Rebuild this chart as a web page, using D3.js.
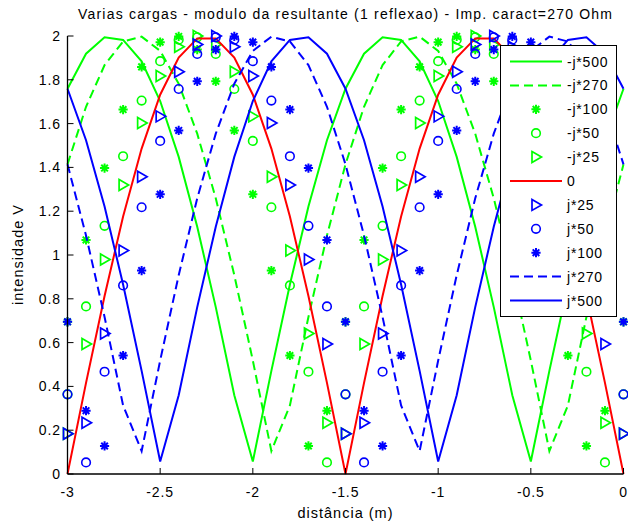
<!DOCTYPE html>
<html><head><meta charset="utf-8">
<script src="https://cdn.jsdelivr.net/npm/d3@7"></script>
<style>
html,body{margin:0;padding:0;background:#fff;}
svg text{font-family:"Liberation Sans",Arial,sans-serif;fill:#000;}
</style></head>
<body>
<svg id="chart" width="628" height="525"></svg>
<script>
// distance samples (m)
const distances = [-3,-2.9,-2.8,-2.7,-2.6,-2.5,-2.4,-2.3,-2.2,-2.1,-2,-1.9,-1.8,-1.7,-1.6,-1.5,-1.4,-1.3,-1.2,-1.1,-1,-0.9,-0.8,-0.7,-0.6,-0.5,-0.4,-0.3,-0.2,-0.1,0];

const serNegJ500 = [1.759,1.919,1.994,1.982,1.884,1.703,1.448,1.129,0.762,0.360,0.057,0.471,0.865,1.221,1.524,1.759,1.919,1.994,1.982,1.884,1.703,1.448,1.129,0.762,0.360,0.057,0.471,0.865,1.221,1.524,1.759];
const serNegJ270 = [1.414,1.677,1.867,1.975,1.997,1.932,1.782,1.554,1.259,0.908,0.518,0.105,0.313,0.717,1.089,1.414,1.677,1.867,1.975,1.997,1.932,1.782,1.554,1.259,0.908,0.518,0.105,0.313,0.717,1.089,1.414];
const serNegJ100 = [0.695,1.069,1.397,1.664,1.859,1.972,1.998,1.938,1.793,1.569,1.277,0.929,0.541,0.128,0.289,0.695,1.069,1.397,1.664,1.859,1.972,1.998,1.938,1.793,1.569,1.277,0.929,0.541,0.128,0.289,0.695];
const serNegJ50 = [0.364,0.765,1.133,1.451,1.705,1.885,1.983,1.994,1.918,1.758,1.521,1.218,0.861,0.467,0.053,0.364,0.765,1.133,1.451,1.705,1.885,1.983,1.994,1.918,1.758,1.521,1.218,0.861,0.467,0.053,0.364];
const serNegJ25 = [0.184,0.594,0.979,1.320,1.603,1.817,1.951,2.000,1.961,1.837,1.633,1.357,1.021,0.642,0.234,0.184,0.594,0.979,1.320,1.603,1.817,1.951,2.000,1.961,1.837,1.633,1.357,1.021,0.642,0.234,0.184];
const serZero = [0,0.416,0.813,1.176,1.486,1.732,1.902,1.989,1.989,1.902,1.732,1.486,1.176,0.813,0.416,0,0.416,0.813,1.176,1.486,1.732,1.902,1.989,1.989,1.902,1.732,1.486,1.176,0.813,0.416,0];
const serJ25 = [0.184,0.234,0.642,1.021,1.357,1.633,1.837,1.961,2.000,1.951,1.817,1.603,1.320,0.979,0.594,0.184,0.234,0.642,1.021,1.357,1.633,1.837,1.961,2.000,1.951,1.817,1.603,1.320,0.979,0.594,0.184];
const serJ50 = [0.364,0.053,0.467,0.861,1.218,1.521,1.758,1.918,1.994,1.983,1.885,1.705,1.451,1.133,0.765,0.364,0.053,0.467,0.861,1.218,1.521,1.758,1.918,1.994,1.983,1.885,1.705,1.451,1.133,0.765,0.364];
const serJ100 = [0.695,0.289,0.128,0.541,0.929,1.277,1.569,1.793,1.938,1.998,1.972,1.859,1.664,1.397,1.069,0.695,0.289,0.128,0.541,0.929,1.277,1.569,1.793,1.938,1.998,1.972,1.859,1.664,1.397,1.069,0.695];
const serJ270 = [1.414,1.089,0.717,0.313,0.105,0.518,0.908,1.259,1.554,1.782,1.932,1.997,1.975,1.867,1.677,1.414,1.089,0.717,0.313,0.105,0.518,0.908,1.259,1.554,1.782,1.932,1.997,1.975,1.867,1.677,1.414];
const serJ500 = [1.759,1.524,1.221,0.865,0.471,0.057,0.360,0.762,1.129,1.448,1.703,1.884,1.982,1.994,1.919,1.759,1.524,1.221,0.865,0.471,0.057,0.360,0.762,1.129,1.448,1.703,1.884,1.982,1.994,1.919,1.759];

const seriesNames = ["-j*500","-j*270","-j*100","-j*50","-j*25","0","j*25","j*50","j*100","j*270","j*500"];
const xTicks = [-3,-2.5,-2,-1.5,-1,-0.5,0];
const yTicks = [0,0.2,0.4,0.6,0.8,1,1.2,1.4,1.6,1.8,2];
const titleText = "Varias cargas - modulo da resultante (1 reflexao) - Imp. caract=270 Ohm";
const xLabelText = "distância (m)";
const yLabelText = "intensidade V";

const G = "#00ff00", B = "#0000ff", R = "#ff0000";
const series = [
  {name:seriesNames[0], vals:serNegJ500, color:G, kind:"solid"},
  {name:seriesNames[1], vals:serNegJ270, color:G, kind:"dash"},
  {name:seriesNames[2], vals:serNegJ100, color:G, kind:"star"},
  {name:seriesNames[3], vals:serNegJ50,  color:G, kind:"circle"},
  {name:seriesNames[4], vals:serNegJ25,  color:G, kind:"tri"},
  {name:seriesNames[5], vals:serZero,    color:R, kind:"solid"},
  {name:seriesNames[6], vals:serJ25,     color:B, kind:"tri"},
  {name:seriesNames[7], vals:serJ50,     color:B, kind:"circle"},
  {name:seriesNames[8], vals:serJ100,    color:B, kind:"star"},
  {name:seriesNames[9], vals:serJ270,    color:B, kind:"dash"},
  {name:seriesNames[10],vals:serJ500,    color:B, kind:"solid"}
];

const svg = d3.select("#chart");
const x = d3.scaleLinear().domain([-3,0]).range([67.5,623.5]);
const y = d3.scaleLinear().domain([0,2]).range([474,36]);

const plot = svg.append("g");
const line = d3.line().x((d,i)=>x(distances[i])).y(d=>y(d));

function drawMarker(g, kind, color, cx, cy){
  if(kind==="circle"){
    g.append("circle").attr("cx",cx).attr("cy",cy).attr("r",4.3)
      .attr("fill","none").attr("stroke",color).attr("stroke-width",1.6);
  } else if(kind==="tri"){
    g.append("path").attr("d",`M${cx-4},${cy-5.5}L${cx+5.5},${cy}L${cx-4},${cy+5.5}Z`)
      .attr("fill","none").attr("stroke",color).attr("stroke-width",1.7).attr("stroke-linejoin","miter");
  } else if(kind==="star"){
    const s=4.6, d=3.3;
    g.append("path").attr("d",`M${cx-s},${cy}L${cx+s},${cy}M${cx},${cy-s}L${cx},${cy+s}M${cx-d},${cy-d}L${cx+d},${cy+d}M${cx-d},${cy+d}L${cx+d},${cy-d}`)
      .attr("fill","none").attr("stroke",color).attr("stroke-width",2);
  }
}

series.forEach(s=>{
  const g = plot.append("g");
  if(s.kind==="solid"||s.kind==="dash"){
    g.append("path").datum(s.vals).attr("d",line)
      .attr("fill","none").attr("stroke",s.color).attr("stroke-width",2)
      .attr("stroke-dasharray", s.kind==="dash" ? "9,5" : null);
  } else {
    s.vals.forEach((v,i)=>drawMarker(g,s.kind,s.color,x(distances[i]),y(v)));
  }
});

// axes (box off, inward ticks)
const axG = svg.append("g");
axG.append("line").attr("x1",x(-3)).attr("x2",x(0)).attr("y1",474).attr("y2",474).attr("stroke","#000").attr("stroke-width",1.3);
axG.append("line").attr("x1",x(-3)).attr("x2",x(-3)).attr("y1",474).attr("y2",36).attr("stroke","#000").attr("stroke-width",1.3);
xTicks.forEach(t=>{
  axG.append("line").attr("x1",x(t)).attr("x2",x(t)).attr("y1",474).attr("y2",468).attr("stroke","#000").attr("stroke-width",1);
  axG.append("text").attr("x",x(t)).attr("y",497).attr("text-anchor","middle").attr("font-size","14px").attr("letter-spacing","0.9px").text(t);
});
yTicks.forEach(t=>{
  axG.append("line").attr("x1",x(-3)).attr("x2",x(-3)+6).attr("y1",y(t)).attr("y2",y(t)).attr("stroke","#000").attr("stroke-width",1);
  axG.append("text").attr("x",61).attr("y",y(t)+5).attr("text-anchor","end").attr("font-size","14px").attr("letter-spacing","0.9px").text(t);
});

svg.append("text").attr("x",345).attr("y",19).attr("text-anchor","middle").attr("font-size","14px")
  .attr("textLength",534).attr("lengthAdjust","spacing").text(titleText);
svg.append("text").attr("x",345).attr("y",518).attr("text-anchor","middle").attr("font-size","14.5px")
  .attr("textLength",95).attr("lengthAdjust","spacing").text(xLabelText);
svg.append("text").attr("transform","translate(23,255) rotate(-90)").attr("text-anchor","middle").attr("font-size","14.5px")
  .attr("textLength",100).attr("lengthAdjust","spacing").text(yLabelText);

// legend
const lg = svg.append("g");
lg.append("rect").attr("x",500.5).attr("y",45.5).attr("width",116).attr("height",271)
  .attr("fill","#fff").attr("stroke","#000").attr("stroke-width",1);
series.forEach((s,i)=>{
  const cy = 61.5 + i*23.9;
  if(s.kind==="solid"||s.kind==="dash"){
    lg.append("line").attr("x1",510).attr("x2",562).attr("y1",cy).attr("y2",cy)
      .attr("stroke",s.color).attr("stroke-width",2).attr("stroke-dasharray", s.kind==="dash" ? "9,5" : null);
  } else {
    drawMarker(lg,s.kind,s.color,536,cy);
  }
  lg.append("text").attr("x",567).attr("y",cy+5).attr("font-size","14px").attr("letter-spacing","0.8px").text(s.name);
});
</script>
</body></html>
